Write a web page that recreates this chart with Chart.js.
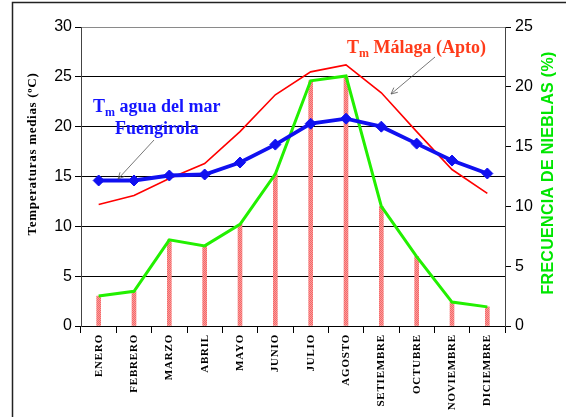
<!DOCTYPE html>
<html><head><meta charset="utf-8">
<script src="https://cdn.jsdelivr.net/npm/chart.js@4"></script>
<style>html,body{margin:0;padding:0;background:#fff}</style>
</head><body>
<canvas id="c" width="566" height="417" style="width:566px;height:417px;display:block"></canvas>
<script>
// ---- data ----
const months = ['ENERO','FEBRERO','MARZO','ABRIL','MAYO','JUNIO','JULIO','AGOSTO','SETIEMBRE','OCTUBRE','NOVIEMBRE','DICIEMBRE'];
const tempMalaga = [12.2, 13.1, 14.8, 16.3, 19.5, 23.2, 25.5, 26.2, 23.4, 19.5, 15.7, 13.3];
const tempAgua   = [14.6, 14.6, 15.1, 15.2, 16.4, 18.2, 20.3, 20.8, 20.0, 18.3, 16.6, 15.3];
const nieblas    = [2.5, 2.9, 7.2, 6.7, 8.5, 12.7, 20.5, 20.9, 10.0, 5.8, 2.0, 1.6];
const leftAxisTitle = 'Temperaturas medias (ºC)';
const rightAxisTitle = 'FRECUENCIA DE NIEBLAS (%)';
const labelMalaga = ['T', 'm', ' Málaga (Apto)'];
const labelAgua1 = ['T', 'm', ' agua del mar'];
const labelAgua2 = 'Fuengirola';

// stippled pink pattern for bars
const pc = document.createElement('canvas'); pc.width = 2; pc.height = 2;
const pctx = pc.getContext('2d');
pctx.fillStyle = '#ff9a9a'; pctx.fillRect(0,0,2,2);
pctx.fillStyle = '#f06a6a'; pctx.fillRect(0,0,1,1); pctx.fillRect(1,1,1,1);

function arrow(ctx, x1, y1, x2, y2) {
  ctx.save();
  ctx.strokeStyle = '#555'; ctx.lineWidth = 0.8;
  ctx.beginPath(); ctx.moveTo(x1, y1); ctx.lineTo(x2, y2); ctx.stroke();
  const a = Math.atan2(y2 - y1, x2 - x1), L = 7, w = 0.45;
  ctx.beginPath();
  ctx.moveTo(x2 - L * Math.cos(a - w), y2 - L * Math.sin(a - w));
  ctx.lineTo(x2, y2);
  ctx.lineTo(x2 - L * Math.cos(a + w), y2 - L * Math.sin(a + w));
  ctx.stroke();
  ctx.restore();
}
function subText(ctx, parts, x, y, color, size) {
  ctx.save();
  ctx.fillStyle = color; ctx.textBaseline = 'alphabetic'; ctx.textAlign = 'left';
  ctx.font = 'bold ' + size + 'px "Liberation Serif"';
  ctx.fillText(parts[0], x, y);
  x += ctx.measureText(parts[0]).width;
  ctx.font = 'bold ' + Math.round(size * 0.65) + 'px "Liberation Serif"';
  ctx.fillText(parts[1], x, y + 4);
  x += ctx.measureText(parts[1]).width;
  ctx.font = 'bold ' + size + 'px "Liberation Serif"';
  ctx.fillText(parts[2], x, y);
  ctx.restore();
}

const decor = {
  id: 'decor',
  afterLayout(chart) {
    const s = chart.scales.x;
    if (!s._ls) {
      const orig = s.drawLabels.bind(s);
      s.drawLabels = function (a) { const c = this.ctx; c.save(); c.letterSpacing = '0.8px'; orig(a); c.restore(); };
      s._ls = true;
    }
  },
  afterDraw(chart) {
    const ctx = chart.ctx;
    // left title
    ctx.save();
    ctx.translate(33, 154); ctx.rotate(-Math.PI / 2);
    ctx.font = 'bold 13px "Liberation Serif"'; ctx.letterSpacing = '0.7px';
    ctx.fillStyle = '#000'; ctx.textAlign = 'center'; ctx.textBaseline = 'middle';
    ctx.fillText(leftAxisTitle, 0, 0);
    ctx.restore();
    // right title
    ctx.save();
    ctx.translate(549, 173); ctx.rotate(-Math.PI / 2);
    ctx.font = 'bold 16px "Liberation Sans"'; ctx.letterSpacing = '0.3px';
    ctx.fillStyle = '#00e600'; ctx.textAlign = 'center'; ctx.textBaseline = 'middle';
    ctx.fillText(rightAxisTitle, 0, 0);
    ctx.restore();
    // annotations
    subText(ctx, labelMalaga, 347, 53, '#ff3b1a', 18);
    subText(ctx, labelAgua1, 93, 112, '#1414ff', 18);
    ctx.save();
    ctx.font = 'bold 18px "Liberation Serif"'; ctx.fillStyle = '#1414ff'; ctx.textAlign = 'left';
    ctx.fillText(labelAgua2, 115, 134);
    ctx.restore();
    arrow(ctx, 435, 57, 391, 94);
    arrow(ctx, 154, 140, 118, 179);
    // outer frame
    ctx.save();
    ctx.strokeStyle = '#222'; ctx.lineWidth = 1.5;
    ctx.strokeRect(12.5, 2.5, 600, 500);
    ctx.restore();
  }
};

new Chart(document.getElementById('c'), {
  type: 'bar',
  data: {
    labels: months,
    datasets: [
      { type: 'line', label: 'Tm agua del mar Fuengirola', data: tempAgua, yAxisID: 'y', borderColor: '#1010f0', backgroundColor: '#1010f0', borderWidth: 3.8, pointStyle: 'rectRot', pointRadius: 5.5, pointBorderWidth: 1, tension: 0, order: 1 },
      { type: 'line', label: 'Tm Málaga (Apto)', data: tempMalaga, yAxisID: 'y', borderColor: '#ff0000', borderWidth: 1.6, pointRadius: 0, tension: 0, order: 2 },
      { type: 'line', label: 'Frecuencia de nieblas', data: nieblas, yAxisID: 'y1', borderColor: '#22f000', borderWidth: 3, pointRadius: 0, tension: 0, order: 3 },
      { type: 'bar', label: 'Nieblas', data: nieblas, yAxisID: 'y1', backgroundColor: pctx.createPattern(pc, 'repeat'), barThickness: 4, order: 4 }
    ]
  },
  options: {
    responsive: false, animation: false,
    layout: { padding: { left: 0, right: 0, top: 27, bottom: 0 } },
    plugins: { legend: { display: false }, tooltip: { enabled: false } },
    scales: {
      x: {
        offset: true,
        afterFit(s) { s.height = 91; },
        grid: { offset: true, drawOnChartArea: false, tickLength: 7, color: '#000', tickColor: '#000' },
        border: { color: '#000', width: 1 },
        ticks: { minRotation: 90, maxRotation: 90, autoSkip: false, padding: 1, color: '#000', font: { family: 'Liberation Serif', size: 11, weight: 'bold' } }
      },
      y: {
        position: 'left', min: 0, max: 30,
        afterFit(s) { s.width = 81; },
        grid: { color: (c) => (c.tick && c.tick.value === 30 ? '#8a8a8a' : '#000'), tickColor: '#000', tickLength: 6, lineWidth: 1 },
        border: { color: '#444', width: 1 },
        ticks: { stepSize: 5, padding: 3, color: '#000', font: { family: 'Liberation Sans', size: 16 } }
      },
      y1: {
        position: 'right', min: 0, max: 25,
        afterFit(s) { s.width = 61; },
        grid: { drawOnChartArea: false, color: '#000', tickColor: '#000', tickLength: 6 },
        border: { color: '#444', width: 1 },
        ticks: { stepSize: 5, padding: 4, color: '#000', font: { family: 'Liberation Sans', size: 16 } }
      }
    }
  },
  plugins: [decor]
});
</script>
</body></html>
